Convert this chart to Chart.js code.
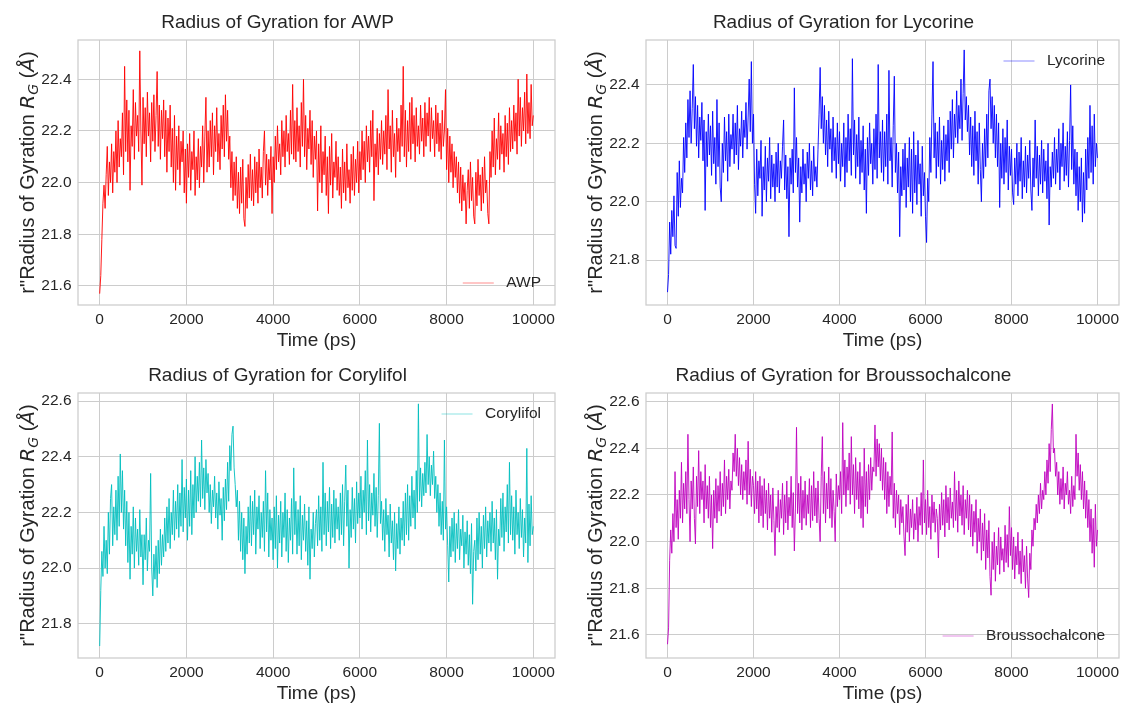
<!DOCTYPE html>
<html>
<head>
<meta charset="utf-8">
<title>Radius of Gyration</title>
<script src="https://cdn.jsdelivr.net/npm/chart.js@4.4.0/dist/chart.umd.min.js"></script>
<style>
    body { margin: 0; background: #ffffff; width: 1121px; height: 705px; overflow: hidden; position: relative; }
    .panel { position: absolute; }
</style>
</head>
<body>
<div class="panel" style="left:0px;top:0px"><canvas id="awpChart" width="560" height="352"></canvas></div>
<div class="panel" style="left:568px;top:0px"><canvas id="lycorineChart" width="553" height="352"></canvas></div>
<div class="panel" style="left:0px;top:353px"><canvas id="corylifolChart" width="560" height="352"></canvas></div>
<div class="panel" style="left:568px;top:353px"><canvas id="broussoChart" width="553" height="352"></canvas></div>
<script>
// time between frames (ps), every series starts at 0 ps
const TIME_STEP = 25;

// Rg values (Angstrom), one row = 500 ps
const awpRg = [
    21.57, 21.64, 21.78, 21.92, 21.99, 21.90, 22.03, 22.14, 21.95, 22.08, 22.00, 22.15, 21.96, 22.12, 22.04, 22.20, 22.00, 22.24, 22.06, 22.17,
    22.10, 22.27, 22.03, 22.45, 22.12, 22.32, 22.08, 22.28, 21.97, 22.22, 22.14, 22.36, 22.09, 22.31, 22.18, 22.26, 22.12, 22.51, 22.20, 21.99,
    22.33, 22.15, 22.29, 22.10, 22.35, 22.18, 22.27, 22.08, 22.31, 22.16, 22.34, 22.12, 22.26, 22.43, 22.14, 22.30, 22.09, 22.28, 22.17, 22.32,
    22.10, 22.28, 22.04, 22.25, 22.12, 22.30, 22.06, 22.21, 22.00, 22.26, 21.97, 22.18, 22.05, 22.22, 21.99, 22.16, 22.08, 22.20, 21.96, 22.13,
    21.92, 22.15, 22.02, 22.19, 21.97, 22.12, 22.05, 22.20, 21.95, 22.10, 22.01, 22.17, 21.98, 22.14, 22.06, 22.22, 22.00, 22.18, 22.33, 22.04,
    22.20, 22.06, 22.24, 22.10, 22.27, 22.03, 22.22, 22.12, 22.29, 22.08, 22.19, 22.05, 22.26, 22.13, 22.30, 22.10, 22.34, 22.16, 22.28, 22.09,
    22.18, 21.98, 22.12, 21.93, 22.08, 21.95, 22.10, 21.90, 22.04, 21.88, 22.06, 21.92, 22.09, 21.86, 21.83, 22.02, 21.90, 22.07, 21.94, 22.11,
    21.93, 22.05, 21.91, 22.10, 21.96, 22.08, 21.92, 22.13, 21.98, 22.06, 21.94, 22.12, 22.20, 21.99, 22.11, 21.95, 22.09, 22.01, 22.14, 21.88,
    22.10, 22.00, 22.18, 22.05, 22.22, 22.08, 22.15, 22.03, 22.24, 22.10, 22.20, 22.06, 22.26, 22.12, 22.19, 22.07, 22.28, 22.11, 22.38, 22.09,
    22.24, 22.08, 22.29, 22.12, 22.22, 22.06, 22.31, 22.14, 22.40, 22.10, 22.26, 22.05, 22.21, 22.13, 22.28, 22.07, 22.24, 22.02, 22.18, 22.09,
    22.20, 21.89, 22.15, 22.00, 22.22, 21.96, 22.12, 22.03, 22.18, 21.95, 22.10, 21.88, 22.14, 21.99, 22.19, 21.94, 22.08, 22.02, 22.16, 21.97,
    22.10, 21.95, 22.06, 21.90, 22.13, 21.96, 22.08, 21.93, 22.15, 21.98, 22.05, 21.92, 22.11, 21.97, 22.14, 21.95, 22.09, 22.00, 22.16, 21.96,
    22.12, 22.01, 22.20, 22.05, 22.16, 22.00, 22.22, 22.08, 22.18, 22.04, 22.24, 22.10, 22.28, 21.93, 22.15, 22.06, 22.21, 22.03, 22.19, 22.09,
    22.24, 22.07, 22.20, 22.11, 22.26, 22.05, 22.36, 22.13, 22.22, 22.04, 22.28, 22.10, 22.19, 22.02, 22.25, 22.12, 22.21, 22.08, 22.30, 22.14,
    22.45, 22.10, 22.28, 22.06, 22.24, 22.12, 22.31, 22.09, 22.33, 22.15, 22.26, 22.08, 22.29, 22.14, 22.22, 22.11, 22.30, 22.16, 22.25, 22.10,
    22.31, 22.14, 22.27, 22.18, 22.33, 22.12, 22.29, 22.17, 22.24, 22.10, 22.30, 22.15, 22.27, 22.12, 22.23, 22.09, 22.28, 22.14, 22.20, 22.36,
    22.05, 22.21, 22.00, 22.18, 22.04, 22.15, 21.98, 22.12, 22.02, 22.10, 21.96, 22.08, 21.92, 22.06, 21.89, 22.03, 21.93, 22.00, 21.84, 21.97,
    22.05, 21.90, 22.08, 21.93, 22.02, 21.87, 21.84, 22.04, 21.91, 22.09, 21.95, 22.03, 21.89, 22.06, 21.92, 22.10, 21.96, 22.01, 21.88, 21.84,
    22.12, 22.02, 22.20, 22.06, 22.25, 22.03, 22.17, 22.09, 22.27, 22.05, 22.22, 22.11, 22.19, 22.04, 22.26, 22.10, 22.23, 22.07, 22.29, 22.12,
    22.24, 22.13, 22.30, 22.16, 22.27, 22.11, 22.40, 22.18, 22.33, 22.14, 22.29, 22.20, 22.35, 22.15, 22.42, 22.19, 22.31, 22.17, 22.38, 22.22,
    22.26
];

const lycorineRg = [
    21.69, 21.75, 21.93, 21.82, 21.97, 21.88, 22.02, 21.85, 21.84, 22.10, 21.95, 22.14, 21.98, 22.08, 22.03, 22.22, 22.10, 22.27, 22.15, 22.35,
    22.22, 22.38, 22.20, 22.32, 22.47, 22.25, 22.36, 22.19, 22.33, 22.15, 22.29, 22.21, 22.34, 22.14, 22.28, 21.97, 22.24, 22.12, 22.30, 22.16,
    22.26, 22.09, 22.31, 22.13, 22.22, 22.06, 22.35, 22.12, 22.27, 22.05, 22.00, 22.20, 22.10, 22.29, 22.14, 22.24, 22.07, 22.30, 22.12, 22.23,
    22.18, 22.30, 22.13, 22.27, 22.16, 22.33, 22.11, 22.25, 22.19, 22.31, 22.15, 22.28, 22.22, 22.34, 22.18, 22.29, 22.42, 22.24, 22.48, 22.20,
    22.30, 22.06, 21.96, 22.18, 22.02, 22.14, 22.08, 22.21, 21.95, 22.12, 22.04, 22.19, 22.00, 22.15, 22.07, 22.22, 22.01, 22.16, 22.05, 22.13,
    22.00, 22.17, 22.05, 22.20, 22.03, 22.14, 22.08, 22.19, 22.28, 22.04, 22.16, 22.01, 22.12, 21.88, 22.15, 22.06, 22.18, 22.03, 22.39, 22.10,
    22.22, 22.05, 22.15, 21.93, 22.12, 22.03, 22.18, 22.06, 22.13, 22.00, 22.17, 22.08, 22.20, 22.04, 22.14, 22.02, 22.19, 22.07, 22.12, 22.05,
    22.18, 22.30, 22.46, 22.25, 22.36, 22.20, 22.33, 22.16, 22.28, 22.12, 22.31, 22.18, 22.25, 22.10, 22.29, 22.14, 22.22, 22.08, 22.27, 22.13,
    22.24, 22.07, 22.20, 22.12, 22.27, 22.05, 22.22, 22.10, 22.30, 22.14, 22.25, 22.09, 22.49, 22.16, 22.28, 22.08, 22.23, 22.12, 22.29, 22.06,
    22.21, 22.10, 22.26, 22.04, 22.18, 21.96, 22.22, 22.09, 22.27, 22.13, 22.20, 22.06, 22.25, 22.11, 22.30, 22.08, 22.47, 22.15, 22.24, 22.10,
    22.28, 22.07, 22.24, 22.12, 22.30, 22.06, 22.45, 22.14, 22.22, 22.05, 22.26, 22.43, 22.10, 22.20, 22.03, 22.17, 21.88, 22.12, 22.02, 22.18,
    22.04, 22.20, 21.98, 22.15, 22.05, 22.22, 22.00, 22.18, 21.96, 22.24, 22.03, 22.16, 21.99, 22.21, 22.06, 22.13, 21.95, 22.19, 22.02, 22.10,
    21.95, 21.86, 22.08, 22.00, 22.22, 22.10, 22.30, 22.48, 22.15, 22.27, 22.08, 22.24, 22.12, 22.29, 22.06, 22.21, 22.11, 22.26, 22.07, 22.23,
    22.14, 22.28, 22.10, 22.31, 22.18, 22.35, 22.15, 22.30, 22.22, 22.38, 22.20, 22.33, 22.25, 22.42, 22.21, 22.37, 22.52, 22.28, 22.36, 22.24,
    22.33, 22.16, 22.29, 22.12, 22.26, 22.09, 22.31, 22.14, 22.24, 22.06, 22.27, 22.11, 22.00, 22.20, 22.08, 22.25, 22.12, 22.30, 22.15, 22.38,
    22.42, 22.25, 22.36, 22.20, 22.33, 22.15, 22.30, 22.12, 22.27, 21.98, 22.20, 22.08, 22.25, 22.06, 22.22, 22.10, 22.28, 22.04, 22.19, 22.09,
    22.18, 22.03, 21.99, 22.15, 22.06, 22.20, 22.02, 22.17, 22.07, 22.22, 22.01, 22.14, 22.05, 22.19, 22.03, 22.16, 22.08, 22.21, 22.04, 21.97,
    22.15, 22.05, 22.28, 22.08, 22.19, 22.02, 22.16, 22.06, 22.21, 22.03, 22.18, 22.07, 22.14, 22.01, 22.20, 21.92, 22.12, 22.05, 22.17, 22.08,
    22.22, 22.06, 22.18, 22.10, 22.25, 22.04, 22.20, 22.12, 22.27, 22.07, 22.19, 22.09, 22.24, 22.05, 22.21, 22.40, 22.11, 22.26, 22.06, 22.18,
    22.02, 22.17, 21.97, 22.12, 22.00, 22.15, 21.93, 22.10, 21.96, 22.18, 22.04, 22.22, 22.08, 22.33, 22.10, 22.26, 22.06, 22.30, 22.12, 22.20,
    22.15
];

const corylifolRg = [
    21.72, 21.92, 22.06, 21.97, 22.15, 22.00, 22.10, 21.98, 22.20, 22.05, 22.25, 22.30, 22.08, 22.22, 22.12, 22.28, 22.10, 22.33, 22.15, 22.41,
    22.20, 22.35, 22.14, 22.28, 22.08, 22.24, 22.02, 22.20, 21.96, 22.15, 22.05, 22.22, 22.00, 22.18, 22.06, 22.14, 22.01, 22.21, 22.04, 22.12,
    21.94, 22.12, 22.03, 22.18, 21.99, 22.10, 22.06, 22.34, 22.00, 21.90, 22.05, 21.96, 22.08, 21.93, 22.10, 21.98, 22.14, 22.01, 22.12, 22.04,
    22.18, 22.06, 22.22, 22.09, 22.25, 22.07, 22.20, 22.12, 22.28, 22.10, 22.24, 22.14, 22.30, 22.11, 22.27, 22.15, 22.39, 22.13, 22.29, 22.18,
    22.32, 22.10, 22.28, 22.15, 22.35, 22.12, 22.30, 22.18, 22.40, 22.20, 22.33, 22.24, 22.38, 22.22, 22.46, 22.25, 22.36, 22.21, 22.39, 22.27,
    22.34, 22.20, 22.30, 22.16, 22.28, 22.22, 22.33, 22.18, 22.27, 22.14, 22.31, 22.19, 22.25, 22.10, 22.29, 22.17, 22.32, 22.21, 22.38, 22.24,
    22.44, 22.35, 22.48, 22.51, 22.36, 22.30, 22.22, 22.28, 22.10, 22.24, 22.06, 22.20, 22.03, 22.18, 21.98, 22.15, 22.05, 22.22, 22.09, 22.26,
    22.08, 22.24, 22.12, 22.28, 22.05, 22.22, 22.14, 22.26, 22.07, 22.20, 22.11, 22.24, 22.06, 22.35, 22.13, 22.27, 22.04, 22.21, 22.10, 22.18,
    22.03, 22.22, 22.07, 22.26, 22.00, 22.19, 22.09, 22.24, 22.04, 22.20, 22.11, 22.27, 22.06, 22.21, 22.02, 22.18, 22.10, 22.25, 22.05, 22.36,
    22.12, 22.24, 22.05, 22.21, 22.08, 22.26, 22.03, 22.19, 22.10, 22.23, 22.06, 22.17, 22.01, 22.22, 21.96, 22.14, 22.07, 22.20, 22.04, 22.16,
    22.21, 22.08, 22.26, 22.10, 22.22, 22.06, 22.38, 22.12, 22.27, 22.08, 22.24, 22.13, 22.29, 22.07, 22.23, 22.11, 22.28, 22.09, 22.25, 22.14,
    22.22, 22.10, 22.27, 22.12, 22.30, 22.08, 22.24, 22.37, 22.15, 22.28, 22.00, 22.21, 22.11, 22.29, 22.14, 22.25, 22.09, 22.31, 22.16, 22.27,
    22.18, 22.33, 22.14, 22.28, 22.20, 22.35, 22.12, 22.46, 22.17, 22.30, 22.13, 22.27, 22.19, 22.34, 22.15, 22.29, 22.11, 22.26, 22.52, 22.16,
    22.24, 22.10, 22.21, 22.06, 22.25, 22.12, 22.19, 22.04, 22.23, 22.09, 22.17, 22.03, 22.20, 21.99, 22.16, 22.07, 22.22, 22.05, 22.18, 22.10,
    22.24, 22.08, 22.27, 22.12, 22.30, 22.10, 22.26, 22.15, 22.33, 22.18, 22.28, 22.14, 22.35, 22.20, 22.59, 22.24, 22.36, 22.22, 22.34, 22.26,
    22.38, 22.27, 22.48, 22.30, 22.40, 22.26, 22.37, 22.30, 22.42, 22.25, 22.33, 22.20, 22.30, 22.15, 22.27, 22.12, 22.24, 22.10, 22.46, 22.14,
    22.22, 22.08, 21.95, 22.15, 22.04, 22.18, 22.06, 22.20, 22.02, 22.16, 22.07, 22.21, 22.03, 22.14, 22.08, 22.19, 22.00, 22.13, 22.05, 22.17,
    22.01, 22.12, 21.98, 22.16, 21.87, 22.06, 22.10, 21.99, 22.18, 22.03, 22.20, 22.05, 22.15, 22.00, 22.19, 22.07, 22.22, 22.04, 22.17, 22.09,
    22.20, 22.06, 22.24, 22.09, 22.18, 22.03, 22.21, 21.96, 22.14, 22.08, 22.25, 22.11, 22.27, 22.06, 22.22, 22.13, 22.30, 22.09, 22.38, 22.12,
    22.26, 22.10, 22.22, 22.05, 22.28, 22.12, 22.20, 22.07, 22.25, 22.11, 22.21, 22.04, 22.18, 22.09, 22.43, 22.02, 22.23, 22.08, 22.26, 22.12,
    22.15
];

const broussoRg = [
    21.56, 21.63, 21.92, 22.05, 21.95, 22.12, 22.00, 22.30, 22.06, 22.18, 22.01, 22.22, 22.10, 22.34, 22.08, 22.25, 22.14, 22.30, 22.12, 22.46,
    22.18, 22.00, 22.26, 22.14, 22.32, 22.10, 21.99, 22.28, 22.15, 22.39, 22.12, 22.30, 22.18, 22.26, 22.08, 22.33, 22.14, 22.24, 22.10, 22.28,
    22.06, 22.20, 21.97, 22.22, 22.10, 22.27, 22.08, 22.24, 22.13, 22.30, 22.11, 22.25, 22.15, 22.35, 22.12, 22.28, 22.18, 22.31, 22.14, 22.26,
    22.22, 22.38, 22.30, 22.46, 22.28, 22.40, 22.24, 22.36, 22.20, 22.33, 22.18, 22.30, 22.22, 22.35, 22.16, 22.43, 22.20, 22.31, 22.15, 22.28,
    22.24, 22.12, 22.30, 22.14, 22.26, 22.08, 22.28, 22.11, 22.24, 22.06, 22.27, 22.12, 22.22, 22.05, 22.25, 22.10, 22.20, 22.04, 22.23, 22.09,
    21.94, 22.15, 22.06, 22.22, 22.04, 22.18, 22.10, 22.25, 22.03, 22.20, 22.08, 22.26, 22.05, 22.19, 22.11, 22.28, 22.06, 22.21, 21.96, 22.14,
    22.49, 22.12, 22.25, 22.08, 22.28, 22.05, 22.22, 22.10, 22.26, 22.07, 22.20, 22.12, 22.27, 22.06, 22.24, 22.09, 22.30, 22.11, 22.23, 22.08,
    22.26, 22.10, 22.00, 22.28, 22.45, 22.12, 22.30, 22.08, 22.25, 22.14, 22.32, 22.10, 22.27, 22.06, 22.22, 22.13, 22.00, 22.29, 22.15, 22.24,
    22.18, 22.30, 22.12, 22.51, 22.20, 22.35, 22.15, 22.32, 22.22, 22.38, 22.16, 22.45, 22.20, 22.33, 22.12, 22.36, 22.18, 22.30, 22.14, 22.34,
    22.10, 22.28, 22.06, 22.40, 22.15, 22.30, 22.12, 22.33, 22.18, 22.36, 22.22, 22.32, 22.30, 22.50, 22.28, 22.44, 22.32, 22.42, 22.26, 22.40,
    22.22, 22.36, 22.18, 22.34, 22.12, 22.30, 22.15, 22.28, 22.20, 22.47, 22.10, 22.25, 22.06, 22.22, 22.12, 22.20, 22.03, 22.18, 22.08, 22.15,
    22.02, 21.94, 22.16, 22.04, 22.20, 22.00, 22.14, 22.06, 22.18, 22.01, 22.12, 22.05, 22.19, 22.00, 22.15, 22.07, 22.21, 22.03, 22.35, 22.08,
    22.18, 22.03, 22.22, 22.06, 22.15, 22.01, 22.20, 22.08, 22.17, 22.04, 22.14, 22.10, 21.93, 22.16, 22.05, 22.21, 22.07, 22.18, 22.02, 22.24,
    22.08, 22.19, 22.05, 22.23, 22.10, 22.17, 22.06, 22.30, 22.09, 22.22, 22.04, 22.26, 22.11, 22.20, 22.07, 22.24, 22.03, 22.18, 22.10, 22.22,
    22.05, 22.20, 22.02, 22.16, 21.98, 22.13, 22.04, 22.18, 21.95, 22.10, 22.00, 22.14, 21.92, 22.08, 21.96, 22.12, 21.88, 22.05, 21.93, 22.09,
    21.85, 21.77, 22.00, 21.88, 22.04, 21.83, 21.98, 21.90, 22.06, 21.86, 22.02, 21.92, 21.97, 21.87, 22.07, 21.91, 22.03, 21.89, 22.15, 21.94,
    22.06, 21.88, 22.02, 21.84, 21.98, 21.90, 22.04, 21.86, 21.96, 21.82, 22.01, 21.87, 21.94, 21.80, 21.98, 21.84, 21.76, 21.95, 21.88, 22.05,
    21.98, 22.10, 22.05, 22.16, 22.08, 22.20, 22.12, 22.25, 22.14, 22.22, 22.18, 22.30, 22.20, 22.35, 22.25, 22.42, 22.30, 22.48, 22.59, 22.38,
    22.40, 22.28, 22.34, 22.20, 22.30, 22.16, 22.27, 22.18, 22.32, 22.14, 22.25, 22.20, 22.30, 22.16, 22.22, 22.12, 22.28, 22.15, 22.24, 22.18,
    22.46, 22.28, 22.38, 22.22, 22.33, 22.18, 22.30, 22.14, 22.26, 22.10, 22.22, 22.06, 22.18, 22.00, 22.14, 21.95, 22.10, 21.89, 22.16, 21.98,
    22.05
];

// tick labels
const timeTicks = [0, 2000, 4000, 6000, 8000, 10000];
const awpTicks = [21.6, 21.8, 22.0, 22.2, 22.4];
const lycorineTicks = [21.8, 22.0, 22.2, 22.4];
const corylifolTicks = [21.8, 22.0, 22.2, 22.4, 22.6];
const broussoTicks = [21.6, 21.8, 22.0, 22.2, 22.4, 22.6];

const TEXT = "#262626";
const GRID = "#cccccc";
const SANS = '"Liberation Sans", Arial, sans-serif';
const MATH = '"DejaVu Sans", sans-serif';

function rgba(rgb, a) {
    return "rgba(" + rgb.join(",") + "," + a + ")";
}

// frame, legend and the y label with R_G (Chart.js has no mathtext)
const decorPlugin = {
    id: "decor",
    afterDraw(chart, args, opts) {
        const ctx = chart.ctx;
        const a = chart.chartArea;
        ctx.save();

        ctx.strokeStyle = GRID;
        ctx.lineWidth = 1.25;
        ctx.strokeRect(a.left, a.top, a.right - a.left, a.bottom - a.top);

        // legend, no box
        const label = chart.data.datasets[0].label;
        ctx.font = "15.5px " + SANS;
        const tw = ctx.measureText(label).width;
        const textRight = a.right - 14;
        const cy = opts.legendLoc === "upper right" ? a.top + 21 : a.bottom - 22;
        ctx.fillStyle = TEXT;
        ctx.textAlign = "right";
        ctx.textBaseline = "middle";
        ctx.fillText(label, textRight, cy);
        const lineEnd = textRight - tw - 12.5;
        ctx.strokeStyle = rgba(opts.rgb, 0.3);
        ctx.lineWidth = 1.5;
        ctx.beginPath();
        ctx.moveTo(lineEnd - 31, cy);
        ctx.lineTo(lineEnd, cy);
        ctx.stroke();

        // y axis label
        const parts = [
            { t: 'r"Radius of Gyration ', f: "20px " + SANS, dy: 0 },
            { t: "R", f: "italic 20px " + MATH, dy: 0 },
            { t: "G", f: "italic 14px " + MATH, dy: 4 },
            { t: " (", f: "20px " + SANS, dy: 0 },
            { t: "Å", f: "italic 20px " + MATH, dy: 0 },
            { t: ")", f: "20px " + SANS, dy: 0 }
        ];
        let total = 0;
        parts.forEach(p => { ctx.font = p.f; p.w = ctx.measureText(p.t).width; total += p.w; });
        ctx.translate(a.left - 44, (a.top + a.bottom) / 2);
        ctx.rotate(-Math.PI / 2);
        ctx.textAlign = "left";
        ctx.textBaseline = "alphabetic";
        let x = -total / 2;
        parts.forEach(p => {
            ctx.font = p.f;
            ctx.fillText(p.t, x, p.dy);
            x += p.w;
        });
        ctx.restore();
    }
};

function makePanel(canvasId, title, label, values, rgb, yMin, yMax, yTicks, legendLoc, padRight) {
    const points = values.map((v, i) => ({ x: i * TIME_STEP, y: v }));
    return new Chart(document.getElementById(canvasId), {
        type: "line",
        data: {
            datasets: [{
                label: label,
                data: points,
                borderColor: rgba(rgb, 0.9),
                borderWidth: 1,
                pointRadius: 0,
                tension: 0,
                fill: false
            }]
        },
        options: {
            responsive: false,
            animation: false,
            devicePixelRatio: 1,
            layout: { padding: { left: 0, right: padRight, top: 0, bottom: 0 } },
            scales: {
                x: {
                    type: "linear",
                    min: -500,
                    max: 10500,
                    afterBuildTicks: scale => { scale.ticks = timeTicks.map(v => ({ value: v })); },
                    afterFit: scale => { scale.height = 47; scale.paddingLeft = 0; scale.paddingRight = 0; },
                    ticks: {
                        callback: v => String(v),
                        color: TEXT,
                        font: { family: SANS, size: 15.5 },
                        padding: 5,
                        maxRotation: 0
                    },
                    grid: { color: GRID, lineWidth: 1, drawTicks: false },
                    border: { display: false },
                    title: {
                        display: true,
                        text: "Time (ps)",
                        color: TEXT,
                        font: { family: SANS, size: 19 },
                        padding: { top: 0, bottom: 0 }
                    }
                },
                y: {
                    type: "linear",
                    min: yMin,
                    max: yMax,
                    afterBuildTicks: scale => { scale.ticks = yTicks.map(v => ({ value: v })); },
                    afterFit: scale => { scale.width = 78; scale.paddingTop = 0; scale.paddingBottom = 0; },
                    ticks: {
                        callback: v => v.toFixed(1),
                        color: TEXT,
                        font: { family: SANS, size: 15.5 },
                        padding: 6.5
                    },
                    grid: { color: GRID, lineWidth: 1, drawTicks: false },
                    border: { display: false }
                }
            },
            plugins: {
                legend: { display: false },
                tooltip: { enabled: false },
                title: {
                    display: true,
                    text: title,
                    color: TEXT,
                    font: { family: SANS, size: 19, weight: "normal" },
                    padding: { top: 11, bottom: 6.2 }
                },
                decor: { legendLoc: legendLoc, rgb: rgb }
            }
        },
        plugins: [decorPlugin]
    });
}

makePanel("awpChart", "Radius of Gyration for AWP", "AWP", awpRg, [255, 0, 0], 21.526, 22.552, awpTicks, "lower right", 5);
makePanel("lycorineChart", "Radius of Gyration for Lycorine", "Lycorine", lycorineRg, [0, 0, 255], 21.646, 22.554, lycorineTicks, "upper right", 2);
makePanel("corylifolChart", "Radius of Gyration for Corylifol", "Corylifol", corylifolRg, [0, 191, 191], 21.677, 22.629, corylifolTicks, "upper right", 5);
makePanel("broussoChart", "Radius of Gyration for Broussochalcone", "Broussochalcone", broussoRg, [191, 0, 191], 21.501, 22.637, broussoTicks, "lower right", 2);
</script>
</body>
</html>
